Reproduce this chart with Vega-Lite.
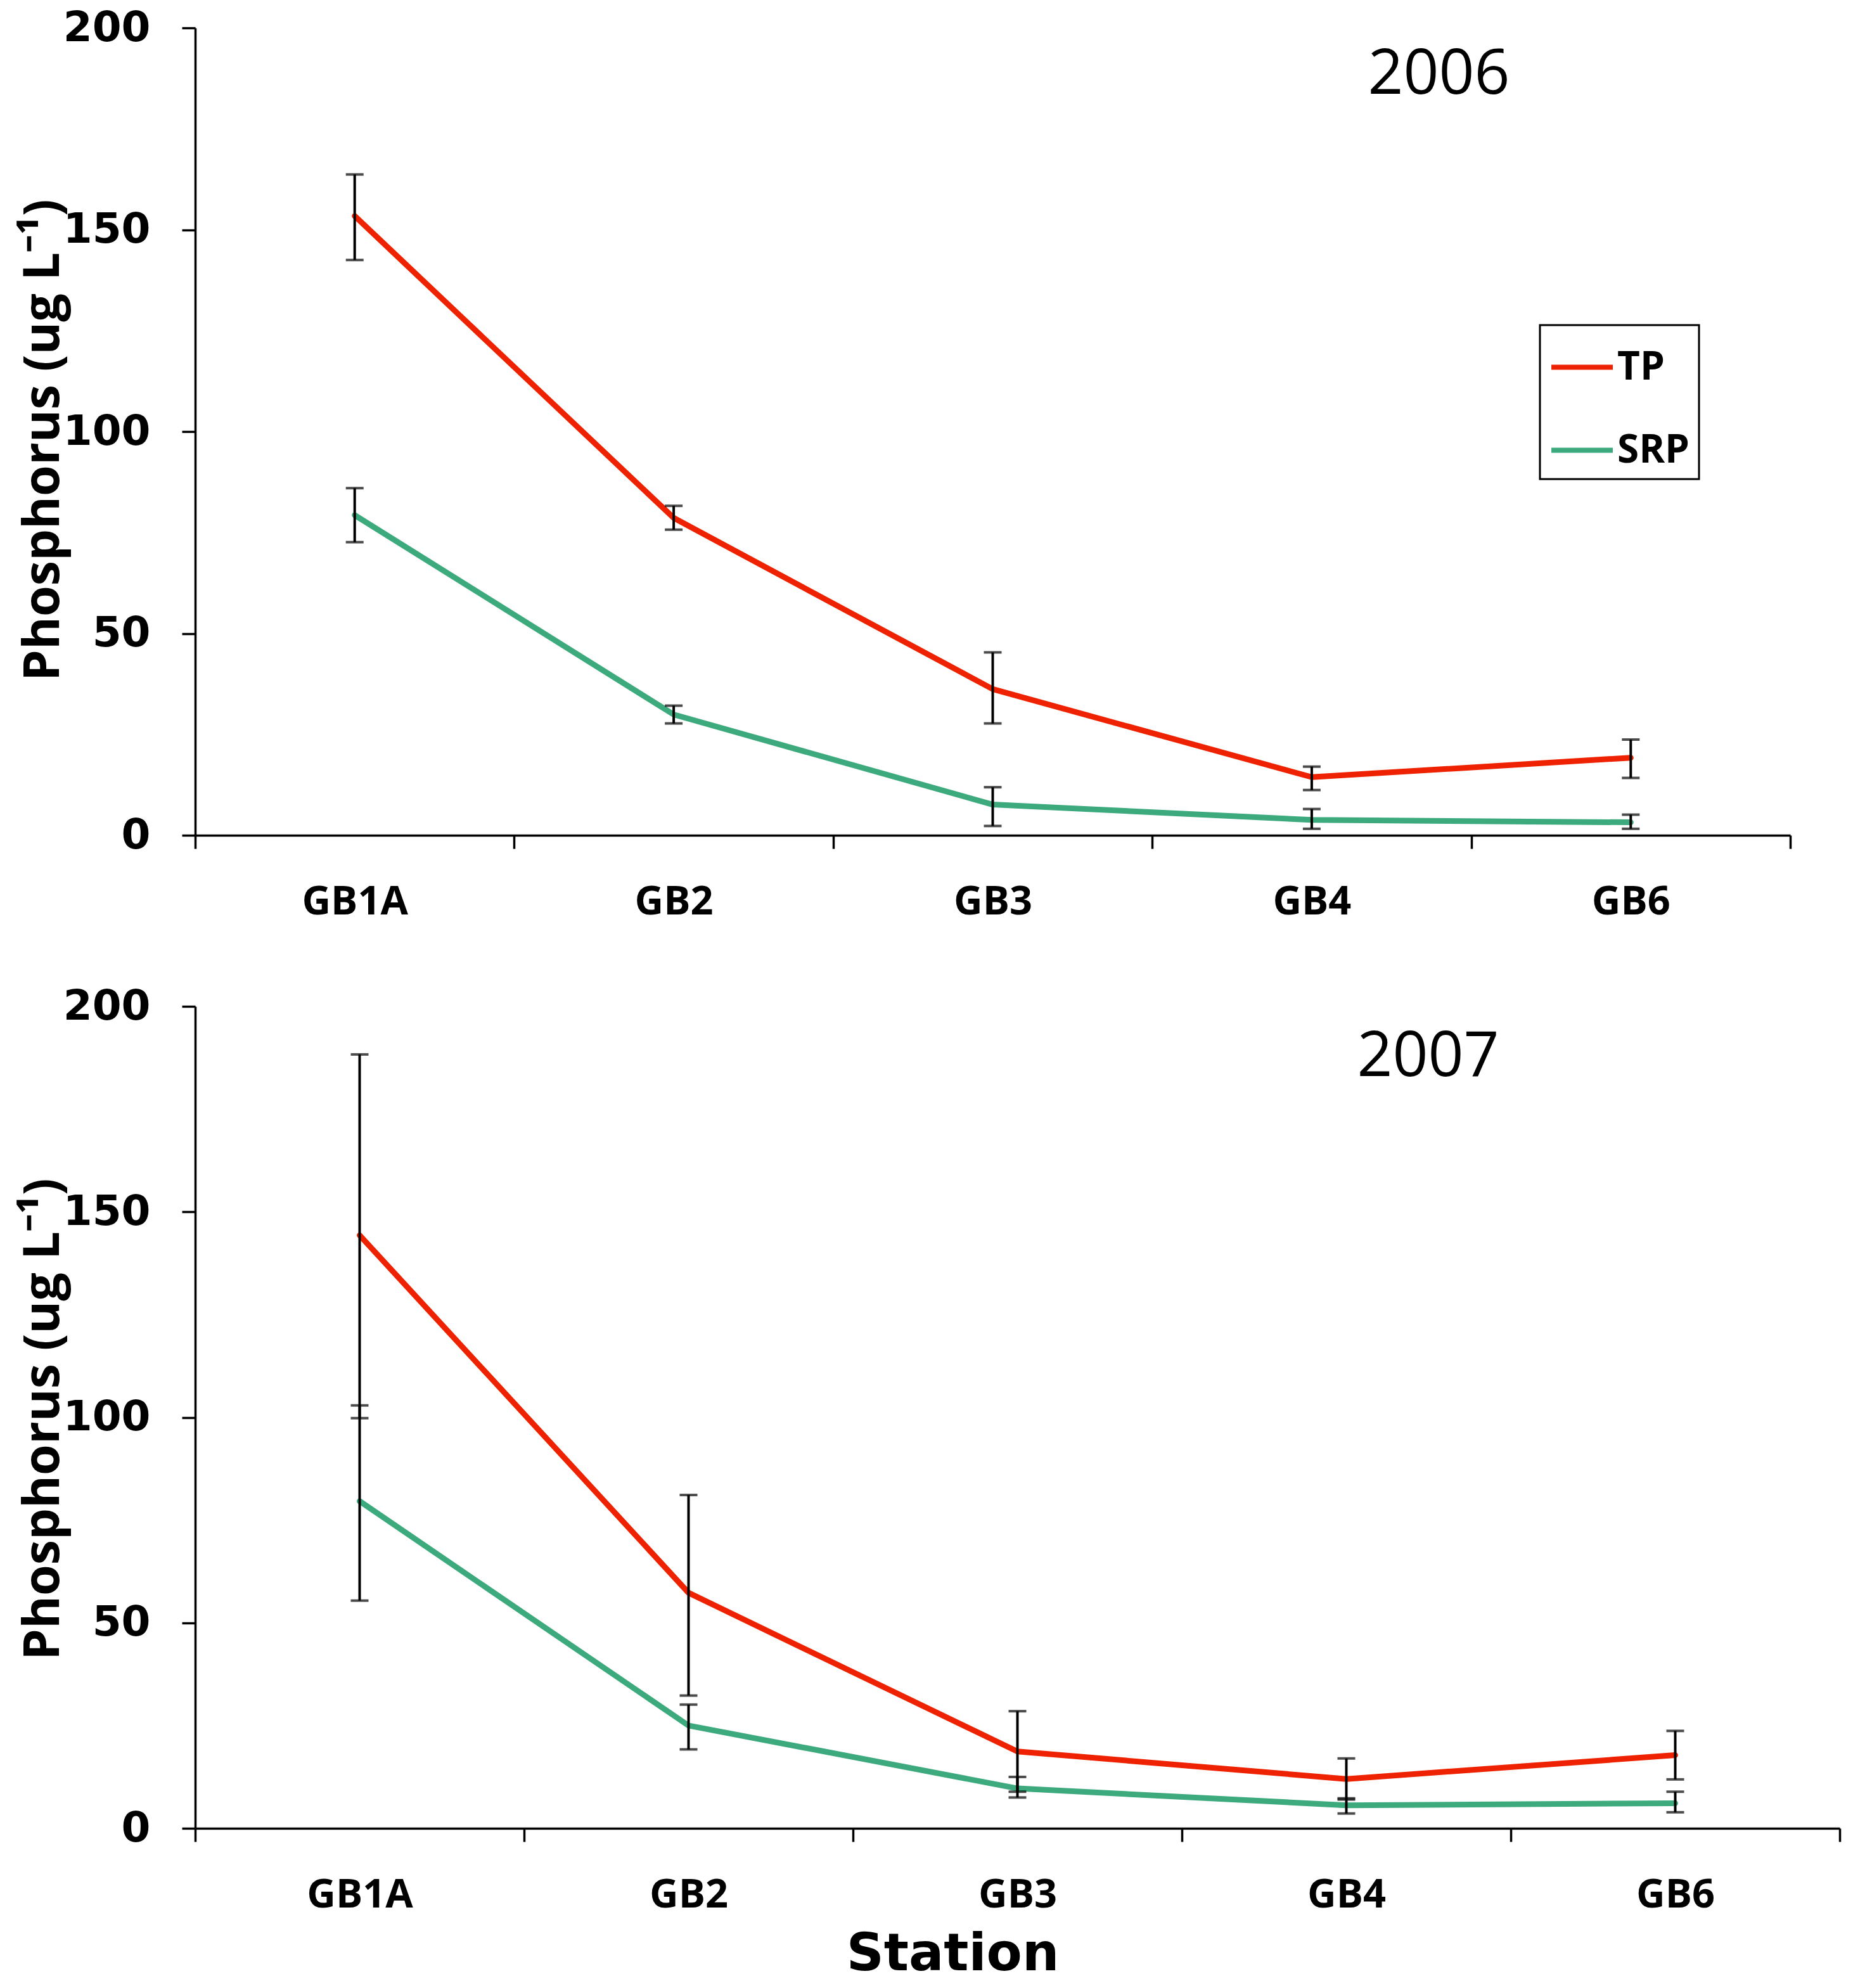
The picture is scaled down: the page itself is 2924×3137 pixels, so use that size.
{
  "$schema": "https://vega.github.io/schema/vega-lite/v6.json",
  "background": "white",
  "padding": {"left": 29, "top": 11, "right": 5, "bottom": 5},
  "autosize": {"type": "pad"},
  "spacing": 100,
  "config": {
    "view": {"stroke": null},
    "axis": {
      "grid": false,
      "domainColor": "black",
      "domainWidth": 3.5,
      "tickColor": "black",
      "tickWidth": 3.5,
      "tickSize": 21,
      "labelColor": "black",
      "titleColor": "black"
    },
    "axisX": {
      "labelFont": "Open Sans",
      "labelFontWeight": "bold",
      "labelFontSize": 63,
      "labelPadding": 53,
      "labelAngle": 0,
      "tickBand": "extent"
    },
    "axisY": {
      "labelFont": "DejaVu Sans",
      "labelFontWeight": "bold",
      "labelFontSize": 66,
      "labelPadding": 50,
      "titleFont": "Open Sans",
      "titleFontWeight": "bold",
      "titleFontSize": 79,
      "titleAngle": -90,
      "titleAlign": "center",
      "titleBaseline": "alphabetic",
      "titleX": -216,
      "titleY": 650
    }
  },
  "datasets": {
    "y2006": [
      {"station": "GB1A", "series": "TP", "value": 153.4, "lo": 142.5, "hi": 163.7},
      {"station": "GB2", "series": "TP", "value": 78.6, "lo": 75.7, "hi": 81.6},
      {"station": "GB3", "series": "TP", "value": 36.2, "lo": 27.7, "hi": 45.3},
      {"station": "GB4", "series": "TP", "value": 14.4, "lo": 11.2, "hi": 17.0},
      {"station": "GB6", "series": "TP", "value": 19.2, "lo": 14.2, "hi": 23.7},
      {"station": "GB1A", "series": "SRP", "value": 79.3, "lo": 72.6, "hi": 86.0},
      {"station": "GB2", "series": "SRP", "value": 29.9, "lo": 27.7, "hi": 32.1},
      {"station": "GB3", "series": "SRP", "value": 7.6, "lo": 2.3, "hi": 11.9},
      {"station": "GB4", "series": "SRP", "value": 3.8, "lo": 1.6, "hi": 6.5},
      {"station": "GB6", "series": "SRP", "value": 3.2, "lo": 1.6, "hi": 5.1}
    ],
    "y2007": [
      {"station": "GB1A", "series": "TP", "value": 144.3, "lo": 99.8, "hi": 188.3},
      {"station": "GB2", "series": "TP", "value": 57.3, "lo": 32.3, "hi": 81.1},
      {"station": "GB3", "series": "TP", "value": 18.7, "lo": 8.9, "hi": 28.5},
      {"station": "GB4", "series": "TP", "value": 12.0, "lo": 7.0, "hi": 17.0},
      {"station": "GB6", "series": "TP", "value": 17.8, "lo": 11.9, "hi": 23.7},
      {"station": "GB1A", "series": "SRP", "value": 79.6, "lo": 55.4, "hi": 102.9},
      {"station": "GB2", "series": "SRP", "value": 25.0, "lo": 19.2, "hi": 30.1},
      {"station": "GB3", "series": "SRP", "value": 9.7, "lo": 7.5, "hi": 12.5},
      {"station": "GB4", "series": "SRP", "value": 5.6, "lo": 3.6, "hi": 7.3},
      {"station": "GB6", "series": "SRP", "value": 6.1, "lo": 3.9, "hi": 8.9}
    ]
  },
  "resolve": {"legend": {"color": "independent"}},
  "vconcat": [
    {
      "width": 2517,
      "height": 1274,
      "data": {"name": "y2006"},
      "title": {
        "text": "2006",
        "orient": "top",
        "anchor": "middle",
        "frame": "group",
        "dx": 704,
        "offset": -235,
        "baseline": "alphabetic",
        "font": "Open Sans",
        "fontSize": 98,
        "fontWeight": "normal",
        "color": "black"
      },
      "encoding": {
        "x": {
          "field": "station",
          "type": "nominal",
          "sort": ["GB1A", "GB2", "GB3", "GB4", "GB6"],
          "scale": {"paddingInner": 0, "paddingOuter": 0},
          "axis": {"title": null}
        }
      },
      "layer": [
        {
          "mark": {"type": "line", "strokeWidth": 9, "strokeJoin": "round", "strokeCap": "round"},
          "encoding": {
            "y": {
              "field": "value",
              "type": "quantitative",
              "title": "Phosphorus (ug L⁻¹)",
              "scale": {"domain": [0, 200]},
              "axis": {"values": [0, 50, 100, 150, 200]}
            },
            "color": {
              "field": "series",
              "type": "nominal",
              "scale": {"domain": ["TP", "SRP"], "range": ["#EE2200", "#3DAA7D"]},
              "legend": {
                "title": null,
                "orient": "none",
                "legendX": 2122,
                "legendY": 469,
                "symbolType": "stroke",
                "symbolSize": 9409,
                "symbolStrokeWidth": 8,
                "strokeColor": "black",
                "padding": 14,
                "rowPadding": 47,
                "labelFont": "Open Sans",
                "labelFontWeight": "bold",
                "labelFontSize": 62,
                "labelColor": "black",
                "labelOffset": 3,
                "encode": {"legend": {"update": {"strokeWidth": {"value": 3}}}}
              }
            }
          }
        },
        {
          "mark": {"type": "rule", "strokeWidth": 4, "color": "black"},
          "encoding": {
            "y": {"field": "lo", "type": "quantitative", "title": "Phosphorus (ug L⁻¹)"},
            "y2": {"field": "hi"},
            "detail": {"field": "series"}
          }
        },
        {
          "mark": {"type": "tick", "size": 28, "thickness": 4, "color": "black"},
          "encoding": {
            "y": {"field": "lo", "type": "quantitative", "title": "Phosphorus (ug L⁻¹)"}
          }
        },
        {
          "mark": {"type": "tick", "size": 28, "thickness": 4, "color": "black"},
          "encoding": {
            "y": {"field": "hi", "type": "quantitative", "title": "Phosphorus (ug L⁻¹)"}
          }
        }
      ]
    },
    {
      "width": 2595,
      "height": 1297,
      "data": {"name": "y2007"},
      "title": {
        "text": "2007",
        "orient": "top",
        "anchor": "middle",
        "frame": "group",
        "dx": 648,
        "offset": -241,
        "baseline": "alphabetic",
        "font": "Open Sans",
        "fontSize": 98,
        "fontWeight": "normal",
        "color": "black"
      },
      "encoding": {
        "x": {
          "field": "station",
          "type": "nominal",
          "sort": ["GB1A", "GB2", "GB3", "GB4", "GB6"],
          "scale": {"paddingInner": 0, "paddingOuter": 0},
          "axis": {
            "title": "Station",
            "titleFont": "DejaVu Sans",
            "titleFontWeight": "bold",
            "titleFontSize": 82,
            "titleX": 1195,
            "titleY": 223,
            "titleAlign": "center",
            "titleBaseline": "alphabetic"
          }
        }
      },
      "layer": [
        {
          "mark": {"type": "line", "strokeWidth": 9, "strokeJoin": "round", "strokeCap": "round"},
          "encoding": {
            "y": {
              "field": "value",
              "type": "quantitative",
              "title": "Phosphorus (ug L⁻¹)",
              "scale": {"domain": [0, 200]},
              "axis": {"values": [0, 50, 100, 150, 200], "titleY": 651}
            },
            "color": {
              "field": "series",
              "type": "nominal",
              "scale": {"domain": ["TP", "SRP"], "range": ["#EE2200", "#3DAA7D"]},
              "legend": null
            }
          }
        },
        {
          "mark": {"type": "rule", "strokeWidth": 4, "color": "black"},
          "encoding": {
            "y": {"field": "lo", "type": "quantitative", "title": "Phosphorus (ug L⁻¹)"},
            "y2": {"field": "hi"},
            "detail": {"field": "series"}
          }
        },
        {
          "mark": {"type": "tick", "size": 28, "thickness": 4, "color": "black"},
          "encoding": {
            "y": {"field": "lo", "type": "quantitative", "title": "Phosphorus (ug L⁻¹)"}
          }
        },
        {
          "mark": {"type": "tick", "size": 28, "thickness": 4, "color": "black"},
          "encoding": {
            "y": {"field": "hi", "type": "quantitative", "title": "Phosphorus (ug L⁻¹)"}
          }
        }
      ]
    }
  ]
}
